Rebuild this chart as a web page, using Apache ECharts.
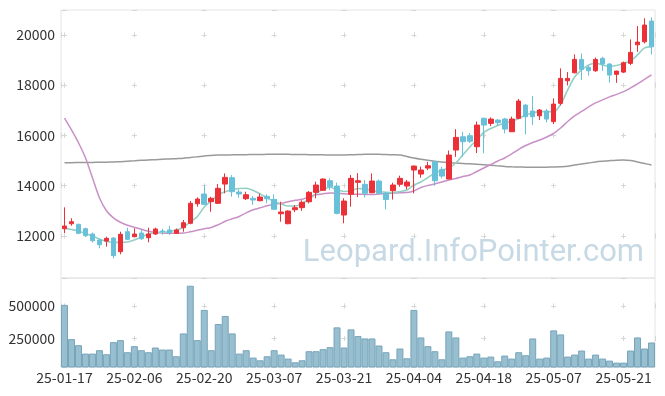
<!DOCTYPE html>
<html>
<head>
<meta charset="utf-8">
<script src="https://cdn.jsdelivr.net/npm/echarts@6/dist/echarts.min.js"></script>
<style>
  html, body { margin: 0; padding: 0; background: #fff; }
  #chart { width: 665px; height: 396px; }
</style>
</head>
<body>
<div id="chart"></div>
<script>
// trading days
var dates = [
  "25-01-17", "25-01-20", "25-01-21", "25-01-22", "25-01-23", "25-01-24", "25-01-31", "25-02-03", "25-02-04", "25-02-05",
  "25-02-06", "25-02-07", "25-02-10", "25-02-11", "25-02-12", "25-02-13", "25-02-14", "25-02-17", "25-02-18", "25-02-19",
  "25-02-20", "25-02-21", "25-02-24", "25-02-25", "25-02-26", "25-02-27", "25-02-28", "25-03-04", "25-03-05", "25-03-06",
  "25-03-07", "25-03-10", "25-03-11", "25-03-12", "25-03-13", "25-03-14", "25-03-17", "25-03-18", "25-03-19", "25-03-20",
  "25-03-21", "25-03-24", "25-03-25", "25-03-26", "25-03-27", "25-03-28", "25-03-31", "25-04-01", "25-04-02", "25-04-03",
  "25-04-04", "25-04-07", "25-04-08", "25-04-09", "25-04-10", "25-04-11", "25-04-14", "25-04-15", "25-04-16", "25-04-17",
  "25-04-18", "25-04-21", "25-04-22", "25-04-23", "25-04-24", "25-04-25", "25-04-28", "25-04-29", "25-04-30", "25-05-02",
  "25-05-07", "25-05-08", "25-05-09", "25-05-12", "25-05-13", "25-05-14", "25-05-15", "25-05-16", "25-05-19", "25-05-20",
  "25-05-21", "25-05-22", "25-05-23", "25-05-26", "25-05-27"
];

var openPrices = [
  12290, 12489, 12465, 12290, 12080, 11841, 11800, 11920, 11376, 12171,
  11972, 12119, 11932, 12080, 12200, 12240, 12107, 12330, 12505, 13284,
  13670, 13364, 13300, 14067, 14319, 13750, 13483, 13500, 13404, 13578,
  13458, 12887, 12489, 13046, 13128, 13364, 13737, 13817, 14199, 13988,
  12835, 13658, 14135, 14056, 13722, 14187, 13698, 13802, 14056, 13988,
  14624, 14465, 14703, 14954, 14650, 14266, 15420, 15948, 15990, 15551,
  16680, 16480, 16612, 16652, 16147, 16680, 17208, 16970, 16783, 16970,
  16550, 17276, 18175, 18493, 19025, 18707, 18573, 19065, 18839, 18430,
  18520, 18867, 19606, 19725, 20550
];
var closePrices = [
  12398, 12569, 12107, 12012, 11813, 11654, 11907, 11217, 12068, 11867,
  12080, 11893, 12080, 12278, 12180, 12131, 12240, 12529, 13300, 13471,
  13260, 13500, 13896, 14332, 13761, 13670, 13642, 13431, 13550, 13483,
  13062, 12954, 12994, 13128, 13340, 13737, 14028, 14266, 13960, 12900,
  13392, 14293, 14199, 13698, 14187, 13698, 13450, 14028, 14293, 14147,
  14783, 14624, 14795, 14199, 14385, 15220, 15924, 15749, 15770, 16413,
  16413, 16650, 16505, 16254, 16652, 17368, 16744, 16744, 17010, 16652,
  17248, 18270, 18270, 19025, 18628, 18573, 19025, 18839, 18400, 18560,
  18890, 19304, 19713, 20390, 19526
];
var lowPrices = [
  12119, 12410, 12070, 11960, 11740, 11510, 11575, 11113, 11272, 11840,
  11960, 11840, 11750, 12040, 12050, 12040, 12080, 12171, 12465, 13165,
  13232, 12966, 13272, 13698, 13562, 13523, 13430, 13232, 13380, 13300,
  13034, 12569, 12470, 12950, 13000, 13300, 13500, 13800, 13830, 12860,
  12505, 13165, 13550, 13538, 13700, 13650, 13060, 13450, 13960, 13860,
  13698, 14320, 14620, 14000, 14300, 14266, 15150, 15153, 15700, 15300,
  15290, 16370, 16380, 16083, 16147, 16650, 16044, 16413, 16612, 16520,
  16450, 17200, 17990, 18469, 18200, 18380, 18530, 18573, 18100, 18095,
  18480, 18800, 19327, 19660, 19220
];
var highPrices = [
  13141, 12704, 12490, 12330, 12140, 11893, 11972, 11948, 12171, 12330,
  12306, 12250, 12330, 12330, 12290, 12410, 12300, 12636, 13392, 13538,
  14016, 13562, 14067, 14491, 14425, 13856, 13763, 13590, 13682, 13658,
  13658, 13364, 13020, 13230, 13420, 13790, 14160, 14290, 14293, 14120,
  13500, 14425, 14500, 14226, 14491, 14250, 13750, 14120, 14400, 14230,
  14800, 14760, 14950, 14990, 14750, 15400, 16250, 16147, 16100, 16550,
  16720, 16720, 16650, 16700, 16750, 17450, 17250, 17566, 17050, 17050,
  17475, 18668, 18520, 19224, 19264, 18800, 19100, 19130, 18880, 18570,
  18940, 19820, 20350, 20660, 20700
];
var volumes = [
  508000, 245000, 198500, 134000, 134000, 160000, 128900, 221700, 237100, 144400,
  190700, 159800, 144400, 180400, 165000, 165000, 113400, 288700, 654600, 237100,
  469100, 159800, 360800, 422700, 288700, 134000, 159800, 103100, 82500, 113400,
  159800, 126300, 95400, 67000, 82500, 152100, 152100, 167600, 183000, 335100,
  180400, 319600, 268100, 250000, 250000, 195900, 144400, 90200, 172700, 97900,
  469100, 257800, 190700, 152100, 90200, 304100, 257800, 103100, 113400, 134000,
  103100, 110900, 74800, 118600, 95400, 144400, 121200, 250000, 95400, 103100,
  311900, 280900, 110900, 126300, 157200, 95400, 126300, 95400, 80000, 64500,
  64500, 157200, 257800, 172700, 219100
];

// moving averages (short / mid / long)
var maShort = [
  12306, 12259, 12199, 12100, 12000, 11881, 11781, 11749, 11749, 11761,
  11841, 11960, 12080, 12139, 12159, 12171, 12239, 12338, 12565, 12768,
  13154, 13393, 13640, 13763, 13851, 13891, 13898, 13811, 13672, 13520,
  13373, 13274, 13194, 13194, 13294, 13473, 13692, 13859, 13938, 13831,
  13771, 13800, 13891, 13871, 13811, 13771, 13739, 13723, 13771, 13831,
  14030, 14149, 14328, 14495, 14615, 14706, 14905, 15224, 15542, 15821,
  16119, 16279, 16398, 16497, 16557, 16677, 16816, 16895, 16947, 16947,
  16947, 17234, 17811, 18328, 18607, 18806, 18873, 18806, 18738, 18786,
  18866, 18965, 19204, 19482, 19534
];
var maMid = [
  16686, 16219, 15709, 15112, 14316, 13520, 13003, 12724, 12547, 12428,
  12348, 12269, 12189, 12149, 12121, 12109, 12109, 12117, 12169, 12229,
  12289, 12341, 12446, 12587, 12685, 12776, 12923, 13043, 13122, 13202,
  13262, 13301, 13361, 13421, 13461, 13560, 13640, 13679, 13707, 13699,
  13679, 13667, 13659, 13655, 13651, 13667, 13687, 13707, 13719, 13727,
  13791, 13930, 14010, 14070, 14149, 14229, 14288, 14368, 14428, 14567,
  14706, 14845, 14985, 15104, 15264, 15443, 15602, 15722, 15821, 15940,
  16087, 16298, 16557, 16776, 16955, 17134, 17294, 17413, 17533, 17632,
  17743, 17890, 18050, 18229, 18408
];
var maLong = [
  14917, 14917, 14921, 14925, 14929, 14933, 14937, 14945, 14957, 14973,
  14989, 15009, 15025, 15037, 15053, 15065, 15077, 15092, 15124, 15152,
  15184, 15204, 15224, 15224, 15228, 15232, 15236, 15240, 15244, 15248,
  15252, 15252, 15248, 15244, 15240, 15236, 15232, 15228, 15224, 15224,
  15224, 15232, 15240, 15248, 15252, 15248, 15240, 15232, 15224, 15164,
  15104, 15053, 15009, 14973, 14945, 14917, 14901, 14886, 14870, 14854,
  14834, 14814, 14790, 14766, 14754, 14746, 14738, 14734, 14734, 14738,
  14746, 14754, 14774, 14826, 14866, 14905, 14945, 14973, 14997, 15017,
  15025, 15001, 14945, 14886, 14826
];

var candleData = dates.map(function (d, i) {
  return [openPrices[i], closePrices[i], lowPrices[i], highPrices[i]];
});

var FONT = "'Noto Sans CJK KR', 'Noto Sans', sans-serif";
var LABEL = { fontSize: 14, color: "#333", fontFamily: FONT };
var CROSS = "#d6d6d6";
var plainNumber = function (v) {
  return String(v);
};

var chart = echarts.init(document.getElementById("chart"), null, { renderer: "canvas" });

var option = {
  animation: false,
  backgroundColor: "#fff",
  graphic: [
    {
      type: "text",
      z: -10,
      silent: true,
      style: {
        x: 644,
        y: 253,
        text: "Leopard.InfoPointer.com",
        font: "31px Roboto",
        fill: "#c6d9e5",
        textAlign: "right",
        textVerticalAlign: "middle",
      },
    },
  ],
  grid: [
    { left: 61, right: 10, top: 10, height: 268, show: true, borderColor: "#e4e4e4", borderWidth: 1 },
    { left: 61, right: 10, top: 278, height: 89, show: true, borderColor: "#e4e4e4", borderWidth: 1 },
  ],
  xAxis: [
    {
      type: "category",
      gridIndex: 0,
      data: dates,
      boundaryGap: true,
      axisLine: { show: false },
      axisTick: { show: false },
      axisLabel: { show: false },
      splitLine: { show: false },
    },
    {
      // only for the dashed "+" marks at candle centres
      type: "value",
      gridIndex: 0,
      min: -0.5,
      max: 84.5,
      minInterval: 10,
      maxInterval: 10,
      axisLine: { show: false },
      axisTick: { show: false },
      axisLabel: { show: false },
      splitLine: { show: true, lineStyle: { color: CROSS, width: 1, type: [5, 45.28], dashOffset: 27.88 } },
    },
    {
      type: "category",
      gridIndex: 1,
      data: dates,
      boundaryGap: true,
      axisLine: { show: false },
      axisTick: { show: false },
      axisLabel: Object.assign({ interval: 9, margin: 4 }, LABEL),
      splitLine: { show: false },
    },
    {
      type: "value",
      gridIndex: 1,
      min: -0.5,
      max: 84.5,
      minInterval: 10,
      maxInterval: 10,
      axisLine: { show: false },
      axisTick: { show: false },
      axisLabel: { show: false },
      splitLine: { show: true, lineStyle: { color: CROSS, width: 1, type: [5, 27.58], dashOffset: 7.18 } },
    },
  ],
  yAxis: [
    {
      type: "value",
      gridIndex: 0,
      min: 10330,
      max: 20990,
      minInterval: 2000,
      maxInterval: 2000,
      axisLine: { show: false },
      axisTick: { show: false },
      axisLabel: Object.assign({ margin: 6, showMinLabel: false, showMaxLabel: false, formatter: plainNumber }, LABEL),
      splitLine: { show: true, lineStyle: { color: CROSS, width: 1, type: [5, 64.88], dashOffset: 68.88 } },
    },
    {
      type: "value",
      gridIndex: 1,
      min: 31000,
      max: 714000,
      minInterval: 250000,
      maxInterval: 250000,
      axisLine: { show: false },
      axisTick: { show: false },
      axisLabel: Object.assign({ margin: 6, showMinLabel: false, showMaxLabel: false, formatter: plainNumber }, LABEL),
      splitLine: { show: true, lineStyle: { color: CROSS, width: 1, type: [5, 64.88], dashOffset: 68.88 } },
    },
  ],
  series: [
    {
      name: "MA long",
      type: "line",
      xAxisIndex: 0,
      yAxisIndex: 0,
      data: maLong,
      symbol: "none",
      smooth: 0.3,
      lineStyle: { color: "#9a9a9a", width: 1.5 },
      z: 1,
    },
    {
      name: "MA mid",
      type: "line",
      xAxisIndex: 0,
      yAxisIndex: 0,
      data: maMid,
      symbol: "none",
      smooth: 0.3,
      lineStyle: { color: "#c890c6", width: 1.5 },
      z: 1,
    },
    {
      name: "MA short",
      type: "line",
      xAxisIndex: 0,
      yAxisIndex: 0,
      data: maShort,
      symbol: "none",
      smooth: 0.3,
      lineStyle: { color: "#93d0c6", width: 1.6 },
      z: 1,
    },
    {
      name: "price",
      type: "candlestick",
      xAxisIndex: 0,
      yAxisIndex: 0,
      data: candleData,
      barWidth: "72%",
      itemStyle: {
        color: "#ec3038",
        color0: "#69c1d9",
        borderColor: "#ec3038",
        borderColor0: "#69c1d9",
        borderWidth: 1,
      },
      z: 2,
    },
    {
      name: "volume",
      type: "bar",
      xAxisIndex: 2,
      yAxisIndex: 1,
      data: volumes,
      barCategoryGap: "0%",
      itemStyle: { color: "#98bfcf", borderColor: "#76a4ba", borderWidth: 1 },
    },
  ],
};

chart.setOption(option);
</script>
</body>
</html>
